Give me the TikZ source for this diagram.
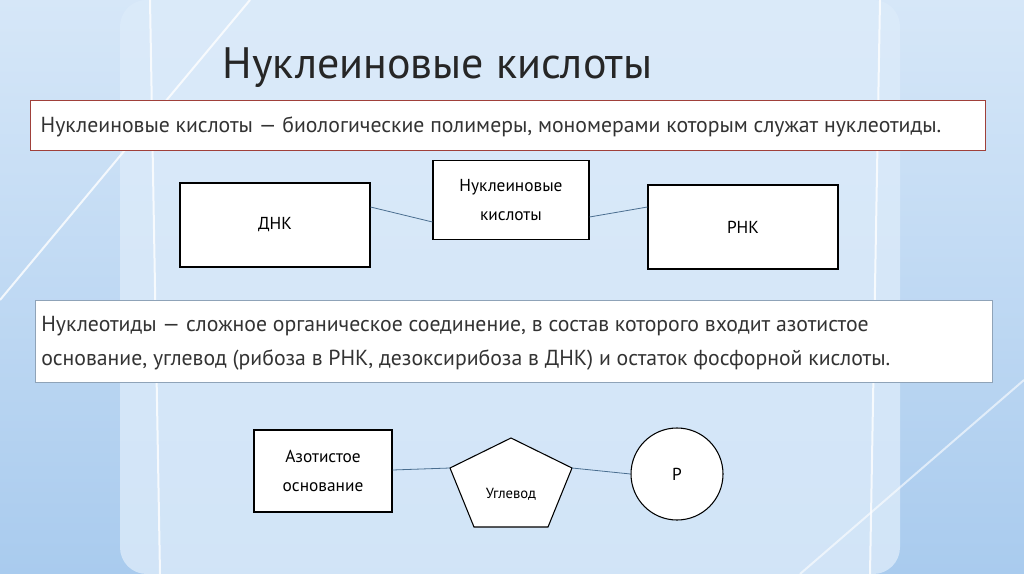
\documentclass[tikz,border=0pt]{standalone}
\usepackage{fontspec}
\setmainfont{PT Sans}
\usetikzlibrary{shapes.geometric}
\definecolor{bgA}{HTML}{D6E7F8}
\definecolor{bgB}{HTML}{A9CBEE}
\definecolor{panel}{HTML}{DCEBFA}
\definecolor{redb}{HTML}{A0403A}
\definecolor{greyb}{HTML}{8FA3B8}
\definecolor{linec}{HTML}{4A6E90}
\begin{document}
\begin{tikzpicture}[x=0.75pt,y=-0.75pt,
  box/.style={draw=black,fill=white,line width=0.8pt,align=center,font=\fontsize{13}{22}\selectfont},
  conn/.style={draw=linec,line width=0.6pt}]
\useasboundingbox (0,0) rectangle (1024,574);
\shade[top color=bgA,bottom color=bgB] (0,0) rectangle (1024,574);
\fill[panel,opacity=0.8,rounded corners=20] (120,0) rectangle (900,574);
\draw[white,line width=1.5pt,opacity=0.8] (150,0) -- (160,574);
\draw[white,line width=1.5pt,opacity=0.8] (880,0) -- (870,574);
\draw[white,line width=1.5pt,opacity=0.8] (0,300) -- (250,0);
\draw[white,line width=1.5pt,opacity=0.6] (800,574) -- (1024,380);
\node[anchor=west,font=\fontsize{33}{38}\selectfont,text=black!85] (title) at (218,68) {Нуклеиновые кислоты};
\node[draw=redb,fill=white,line width=0.8pt,minimum width=955*0.75pt,minimum height=50*0.75pt,anchor=north west,inner sep=0pt] (def1) at (30,100) {};
\node[anchor=west,font=\fontsize{16.3}{18}\selectfont,text=black!80] (def1t) at (36,127) {Нуклеиновые кислоты — биологические полимеры, мономерами которым служат нуклеотиды.};
\node[box,minimum width=190*0.75pt,minimum height=84*0.75pt] (dnk) at (275,225) {ДНК};
\node[box,minimum width=156*0.75pt,minimum height=79*0.75pt] (nk) at (511,200) {Нуклеиновые\\кислоты};
\node[box,minimum width=190*0.75pt,minimum height=84*0.75pt] (rnk) at (743,227) {РНК};
\draw[conn] (dnk.east |- 0,207) -- (nk.west |- 0,222);
\draw[conn] (nk.east |- 0,217) -- (rnk.west |- 0,207);
\node[draw=greyb,fill=white,line width=0.8pt,minimum width=957*0.75pt,minimum height=82*0.75pt,anchor=north west,inner sep=0pt] (def2) at (35,300) {};
\node[anchor=north west,align=left,font=\fontsize{16.3}{25.5}\selectfont,text=black!80,inner sep=0pt] (def2t) at (41,316) {Нуклеотиды — сложное органическое соединение, в состав которого входит азотистое\\основание, углевод (рибоза в РНК, дезоксирибоза в ДНК) и остаток фосфорной кислоты.};
\node[box,minimum width=138*0.75pt,minimum height=82*0.75pt] (az) at (323,471) {Азотистое\\основание};
\coordinate (ugL) at (450,468);
\coordinate (ugR) at (572,468);
\draw[fill=white,line width=0.8pt] (511,438) -- (ugR) -- (548,527) -- (474,527) -- (ugL) -- cycle;
\node[font=\fontsize{11}{13}\selectfont] (ugt) at (511,494) {Углевод};
\node[draw=black,fill=white,line width=0.8pt,circle,minimum size=92*0.75pt,font=\fontsize{13}{15}\selectfont] (p) at (677,474) {Р};
\draw[conn] (az.east |- 0,470) -- (ugL);
\draw[conn] (ugR) -- (p.west);
\end{tikzpicture}
\end{document}
